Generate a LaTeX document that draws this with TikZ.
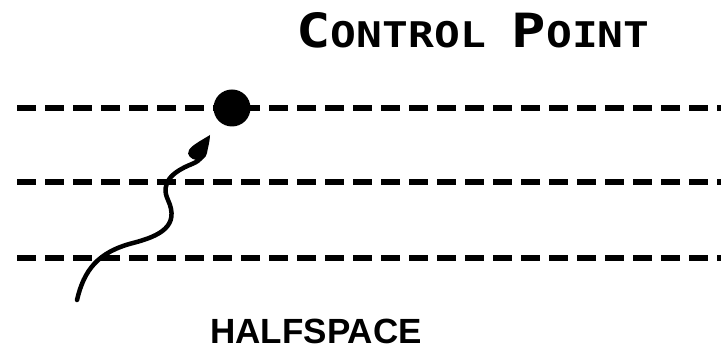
\documentclass[tikz,border=0pt]{standalone}
\usepackage{fontspec}
\usepackage{graphicx}
\setmainfont{Liberation Sans}
\newfontfamily\monobold{DejaVu Sans Mono Bold}
\begin{document}
\begin{tikzpicture}[x=1pt,y=-1pt,
  guide/.style={line width=6pt, dash pattern=on 19pt off 9pt},
  wiggle/.style={line width=4.5pt, line cap=round},
  caption/.style={inner sep=0pt}]
\useasboundingbox (0,0) rectangle (721,352);
% three halfspace boundaries
\coordinate (l1s) at (17,108); \coordinate (l1e) at (721,108);
\coordinate (l2s) at (17,182); \coordinate (l2e) at (721,182);
\coordinate (l3s) at (17,258); \coordinate (l3e) at (721,258);
\draw[guide] (l1s) -- (l1e);
\draw[guide] (l2s) -- (l2e);
\draw[guide] (l3s) -- (l3e);
% control point
\node[circle, fill=black, minimum size=37pt, inner sep=0pt] (cp) at (232,108) {};
% wavy pointer with a hand-drawn wedge head
\coordinate (tail) at (77,300);
\coordinate (neck) at (201,158);
\coordinate (tip) at (210,135);
\draw[wiggle] (tail) .. controls (84,270) and (98,252) .. (133,243)
  .. controls (160,236) and (180,226) .. (168,200)
  .. controls (160,183) and (172,172) .. (192,164)
  .. controls (197,162) and (199,160) .. (neck);
\fill (tip) .. controls (202,140) and (192,145) .. (189,150)
  .. controls (186,155) and (191,159) .. (196,160)
  .. controls (202,161) and (206,158) .. (207,153)
  .. controls (208,147) and (210,141) .. (tip) -- cycle;
% labels
\node[caption, anchor=base] (title) at (473,48) {\resizebox{353pt}{35pt}{\monobold\fontsize{48pt}{48pt}\selectfont C\fontsize{36pt}{36pt}\selectfont ONTROL \fontsize{48pt}{48pt}\selectfont P\fontsize{36pt}{36pt}\selectfont OINT}};
\node[caption, anchor=center] (half) at (316,331) {\bfseries\fontsize{35pt}{35pt}\selectfont HALFSPACE};
\end{tikzpicture}
\end{document}
